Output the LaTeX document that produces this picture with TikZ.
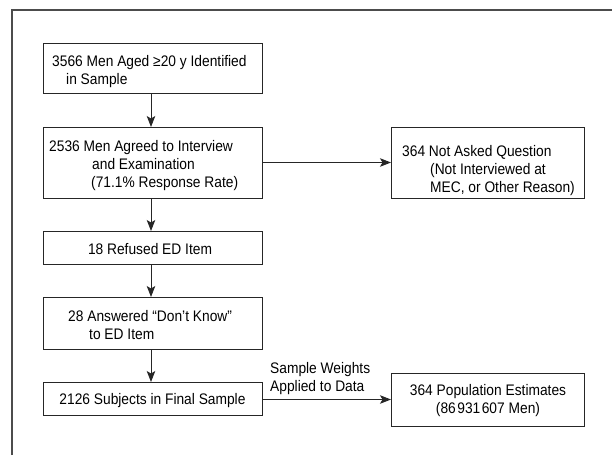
\documentclass[tikz,border=0pt]{standalone}
\usepackage{fontspec}
\setmainfont{Liberation Sans}[FakeStretch=0.9]
\usetikzlibrary{arrows.meta}
\begin{document}
\begin{tikzpicture}[x=1pt,y=-1pt,
  box/.style={draw=black!85,line width=0.9pt,inner sep=0pt,outer sep=0pt},
  txt/.style={inner sep=0pt,font=\fontsize{15.3}{18}\selectfont,align=left},
  ctxt/.style={inner sep=0pt,font=\fontsize{15.3}{18}\selectfont,align=center},
  conn/.style={draw=black!85,line width=0.9pt,-{Stealth[length=11pt,width=8.5pt,inset=2.5pt]}},
  frame/.style={draw=black!70,line width=1.4pt}]
\useasboundingbox (0,0) rectangle (612,455);
\draw[frame] (12,455) -- (12,10) -- (612,10);
% boxes
\node[box,minimum width=219pt,minimum height=50pt] (b1) at (152.5,68) {};
\node[box,minimum width=219pt,minimum height=71pt] (b2) at (152.5,162.5) {};
\node[box,minimum width=219pt,minimum height=33pt] (b3) at (152.5,247.5) {};
\node[box,minimum width=219pt,minimum height=52pt] (b4) at (152.5,323) {};
\node[box,minimum width=219pt,minimum height=33pt] (b5) at (152.5,398.5) {};
\node[box,minimum width=193pt,minimum height=71pt] (r1) at (487.5,162.5) {};
\node[box,minimum width=193pt,minimum height=53pt] (r2) at (487.5,399.5) {};
% texts
\node[txt,anchor=west] (t1) at (52,71.5)
  {3566 Men Aged ≥20 y Identified\\\hspace*{14pt}in Sample};
\node[txt,anchor=west] (t2) at (49,166)
  {2536 Men Agreed to Interview\\\hspace*{43pt}and Examination\\\hspace*{42pt}(71.1\% Response Rate)};
\node[ctxt] (t3) at (150,249.5) {18 Refused ED Item};
\node[txt,anchor=west] (t4) at (68,325)
  {28 Answered “Don’t Know”\\\hspace*{21pt}to ED Item};
\node[ctxt] (t5) at (152.5,401) {2126 Subjects in Final Sample};
\node[txt,anchor=west] (t6) at (402,171)
  {364 Not Asked Question\\\hspace*{28pt}(Not Interviewed at\\\hspace*{28pt}MEC, or Other Reason)};
\node[ctxt] (t7) at (488,401)
  {364 Population Estimates\\(86\hspace{1.5pt}931\hspace{1.5pt}607 Men)};
% connectors
\draw[conn] ([xshift=-1.5pt]b1.south) -- ([xshift=-1.5pt]b2.north);
\draw[conn] ([xshift=-1.5pt]b2.south) -- ([xshift=-1.5pt]b3.north);
\draw[conn] ([xshift=-1.5pt]b3.south) -- ([xshift=-1.5pt]b4.north);
\draw[conn] ([xshift=-1.5pt]b4.south) -- ([xshift=-1.5pt]b5.north);
\draw[conn] (b2.east) -- (r1.west);
\draw[conn] (b5.east |- r2.west) -- (r2.west);
\node[txt,anchor=south west] (lab) at (270,394.5)
  {Sample Weights\\Applied to Data};
\end{tikzpicture}
\end{document}
